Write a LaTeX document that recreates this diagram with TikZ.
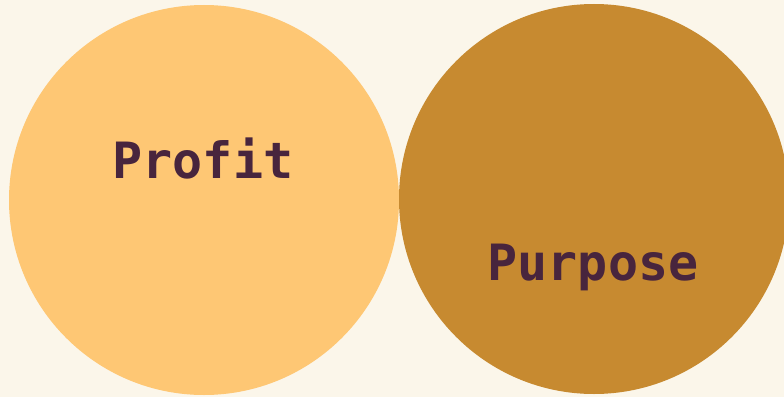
\documentclass[tikz,border=0pt]{standalone}
\usepackage{fontspec}
\setmonofont{DejaVu Sans Mono}
\usepackage{xcolor}
\usetikzlibrary{positioning}

\definecolor{bgcream}{HTML}{FBF6EA}
\definecolor{profitfill}{HTML}{FEC774}
\definecolor{purposefill}{HTML}{C78A30}
\definecolor{labeltext}{HTML}{48253D}

\begin{document}
\begin{tikzpicture}[x=1pt, y=1pt,
    blob/.style={circle, inner sep=0pt, minimum size=390pt},
    word/.style={anchor=base, text=labeltext, inner sep=0pt,
      font=\ttfamily\bfseries\fontsize{50}{60}\selectfont}]
      \fill[bgcream] (0, 0) rectangle (784, 397);
      \useasboundingbox (0, 0) rectangle (784, 397);
      \clip (0, 0) rectangle (784, 397);

      \node[blob, fill=profitfill] (profit) at (204, 197) {};
      \node[blob, fill=purposefill] (purpose) at (594, 198) {};

      \node[word] (profitlabel) at (203, 219) {Profit};
      \node[word] (purposelabel) at (593, 117) {Purpose};
    \end{tikzpicture}
\end{document}
